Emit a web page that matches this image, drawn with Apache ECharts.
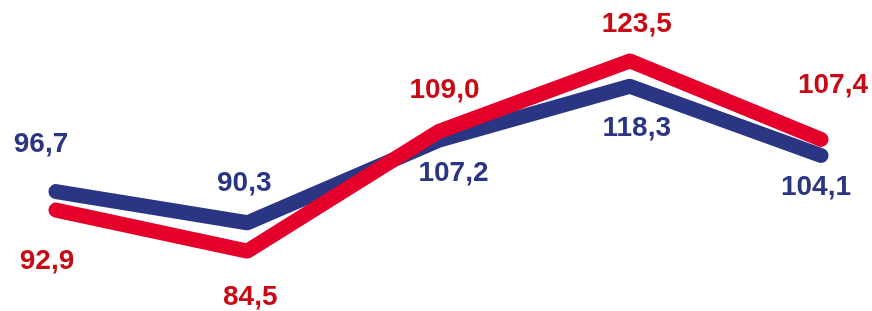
<!DOCTYPE html>
<html>
<head>
<meta charset="utf-8">
<script src="https://cdn.jsdelivr.net/npm/echarts@6/dist/echarts.min.js"></script>
<style>
  html, body { margin: 0; padding: 0; background: #fff; }
  #chart { width: 872px; height: 311px; }
</style>
</head>
<body>
<div id="chart"></div>
<script>
var categories = ['1', '2', '3', '4', '5'];
var blueValues = [96.7, 90.3, 107.2, 118.3, 104.1];
var redValues = [92.9, 84.5, 109.0, 123.5, 107.4];

// label offsets from each point, [dx, dy]
var blueOffsets = [[-15, -47], [-3, -39], [15, 33], [7, 42], [-5, 32]];
var redOffsets = [[-9, 51], [3, 46], [6, -41], [7, -37], [12, -54]];

var blue = '#2a3684';
var red = '#e4002b';
var redText = '#c80a14';

function fmt(p) {
  return p.value.toFixed(1).replace('.', ',');
}

function withLabels(values, offsets) {
  return values.map(function (v, i) {
    return { value: v, label: { offset: offsets[i] } };
  });
}

var chart = echarts.init(document.getElementById('chart'));
var option = {
  animation: false,
  grid: { left: 56, right: 51, top: 0, bottom: 0 },
  xAxis: {
    type: 'category',
    boundaryGap: false,
    data: categories,
    show: false
  },
  yAxis: {
    type: 'value',
    min: 72.2,
    max: 136,
    show: false
  },
  series: [
    {
      type: 'line',
      data: withLabels(blueValues, blueOffsets),
      symbol: 'circle',
      symbolSize: 1,
      itemStyle: { color: blue },
      lineStyle: { color: blue, width: 15, cap: 'round', join: 'round' },
      label: {
        show: true,
        position: 'inside',
        formatter: fmt,
        color: blue,
        fontFamily: 'Liberation Sans, Arial, sans-serif',
        fontWeight: 'bold',
        fontSize: 28
      }
    },
    {
      type: 'line',
      data: withLabels(redValues, redOffsets),
      symbol: 'circle',
      symbolSize: 1,
      itemStyle: { color: red },
      lineStyle: { color: red, width: 15, cap: 'round', join: 'round' },
      label: {
        show: true,
        position: 'inside',
        formatter: fmt,
        color: redText,
        fontFamily: 'Liberation Sans, Arial, sans-serif',
        fontWeight: 'bold',
        fontSize: 28
      }
    }
  ]
};
chart.setOption(option);
</script>
</body>
</html>
